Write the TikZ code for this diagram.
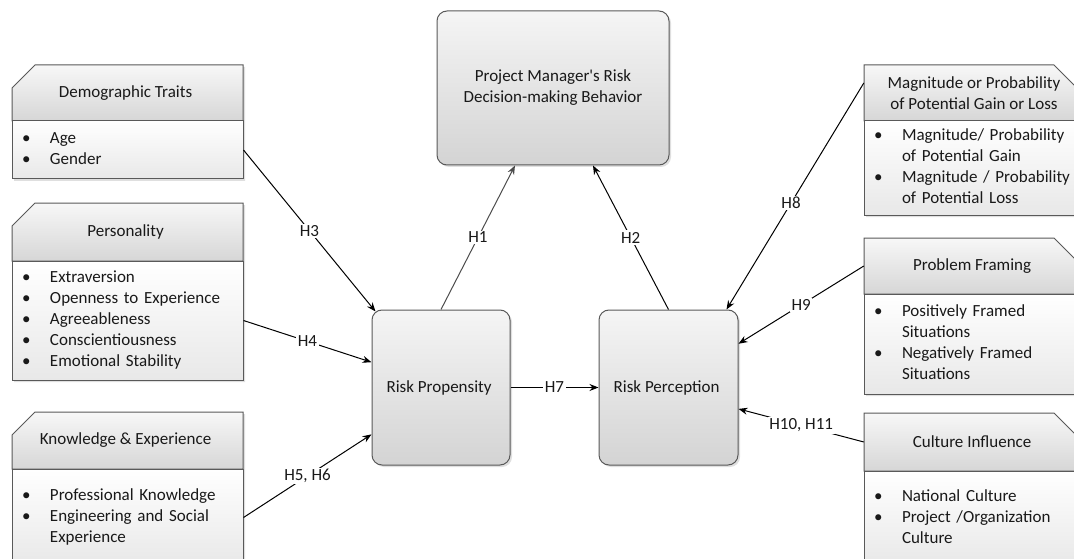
\documentclass[tikz,border=0pt]{standalone}
\usepackage{fontspec}
\setmainfont{Carlito}
\usetikzlibrary{arrows.meta,shadows}

\begin{document}
\begin{tikzpicture}[x = 1pt, y = -1pt, font = \fontsize{17}{21}\selectfont,
    every node/.style = { text = black!90 },
    proc/.style = { draw = black!65, line width = 1pt, rounded corners = 10pt, align = center,
      top color = black!4, bottom color = black!17, inner sep = 0pt,
      drop shadow={shadow xshift=2pt,shadow yshift=-2pt,opacity=.25} },
    outline/.style = { fill = white, drop shadow={shadow xshift=2pt,shadow yshift=-2pt,opacity=.25} },
    hdfill/.style = { draw = black!65, line width = 1pt, top color = black!3, bottom color = black!16 },
    hd/.style = { inner sep = 0pt, align = center },
    bd/.style = { draw = black!65, line width = 1pt, top color = white, bottom color = black!9,
      align = left, inner xsep = 10pt, inner ysep = 0pt },
    conn/.style = { draw = black, line width = 1pt, -{Stealth[length=9pt,width=7pt]} },
    lbl/.style = { fill = white, inner sep = 1.5pt }
  ]
  \useasboundingbox (0,0) rectangle (1074,559);

  % middle
  \node [proc, minimum width = 232pt, minimum height = 154pt] (pm) at (553,88) { Project Manager\textquotesingle s Risk \\ Decision-making Behavior };
  \node [proc, minimum width = 138pt, minimum height = 155pt] (rp) at (441,387.5) { Risk Propensity };
  \node [proc, minimum width = 139pt, minimum height = 155pt] (rperc) at (668.5,387.5) { Risk Perception };

  % left side
  \path [outline] (12,88) -- (35,65) -- (243,65) -- (243,179) -- (12,179) -- cycle;
  \path [hdfill] (12,88) -- (35,65) -- (243,65) -- (243,121) -- (12,121) -- cycle;
  \node [hd, minimum width = 231pt, minimum height = 56pt] (demohead) at (127.5,93) { Demographic Traits };
  \node [bd, text width = 211pt, minimum height = 58pt] (demo) at (127.5,150) {
    \begin{tabular}{@{}p{28pt}@{}l@{}} \textbullet & Age \\ \textbullet & Gender \end{tabular} };

  \path [outline] (12,226) -- (35,203) -- (243,203) -- (243,380) -- (12,380) -- cycle;
  \path [hdfill] (12,226) -- (35,203) -- (243,203) -- (243,261) -- (12,261) -- cycle;
  \node [hd, minimum width = 231pt, minimum height = 58pt] (pershead) at (127.5,232) { Personality };
  \node [bd, text width = 211pt, minimum height = 119pt] (pers) at (127.5,320.5) {
    \begin{tabular}{@{}p{28pt}@{}l@{}} \textbullet & Extraversion \\ \textbullet & Openness to Experience \\
      \textbullet & Agreeableness \\ \textbullet & Conscientiousness \\ \textbullet & Emotional Stability \end{tabular} };

  \path [outline] (12,435) -- (35,412) -- (243,412) -- (243,566) -- (12,566) -- cycle;
  \path [hdfill] (12,435) -- (35,412) -- (243,412) -- (243,469) -- (12,469) -- cycle;
  \node [hd, minimum width = 231pt, minimum height = 57pt] (knowhead) at (127.5,440.5) { Knowledge \& Experience };
  \node [bd, text width = 211pt, minimum height = 97pt] (know) at (127.5,517.5) {
    \begin{tabular}{@{}p{28pt}@{}l@{}} \textbullet & Professional Knowledge \\ \textbullet & Engineering and Social \\
      & Experience \end{tabular} };

  % right side
  \path [outline] (864,65) -- (1054,65) -- (1084,95) -- (1084,215) -- (864,215) -- cycle;
  \path [hdfill] (864,65) -- (1054,65) -- (1084,95) -- (1084,121) -- (864,121) -- cycle;
  \node [hd, minimum width = 220pt, minimum height = 56pt] (maghead) at (974,93) { Magnitude or Probability \\ of Potential Gain or Loss };
  \node [bd, text width = 200pt, minimum height = 94pt] (mag) at (974,168) {
    \begin{tabular}{@{}p{28pt}@{}l@{}} \textbullet & Magnitude/ Probability \\ & of Potential Gain \\
      \textbullet & Magnitude / Probability \\ & of Potential Loss \end{tabular} };

  \path [outline] (864,238) -- (1054,238) -- (1084,268) -- (1084,394) -- (864,394) -- cycle;
  \path [hdfill] (864,238) -- (1054,238) -- (1084,268) -- (1084,294) -- (864,294) -- cycle;
  \node [hd, minimum width = 220pt, minimum height = 56pt] (probhead) at (974,266) { Problem Framing };
  \node [bd, text width = 200pt, minimum height = 100pt] (prob) at (974,344) {
    \begin{tabular}{@{}p{28pt}@{}l@{}} \textbullet & Positively Framed \\ & Situations \\
      \textbullet & Negatively Framed \\ & Situations \end{tabular} };

  \path [outline] (864,413) -- (1054,413) -- (1084,443) -- (1084,566) -- (864,566) -- cycle;
  \path [hdfill] (864,413) -- (1054,413) -- (1084,443) -- (1084,471) -- (864,471) -- cycle;
  \node [hd, minimum width = 220pt, minimum height = 58pt] (culthead) at (974,442) { Culture Influence };
  \node [bd, text width = 200pt, minimum height = 95pt] (cult) at (974,518.5) {
    \begin{tabular}{@{}p{28pt}@{}l@{}} \textbullet & National Culture \\ \textbullet & Project /Organization \\
      & Culture \end{tabular} };

  % hypotheses
  \draw [conn] (demo.east) -- node [lbl] { H3 } ([shift={(4pt,-2pt)}]rp.north west);
  \draw [conn] (pers.east) -- node [lbl] { H4 } (rp.160);
  \draw [conn] (know.east) -- node [lbl] { H5, H6 } (rp.214);
  \draw [conn, black!70] (rp.north) -- node [lbl] { H1 } ([xshift=-38pt]pm.south);
  \draw [conn] (rperc.north) -- node [lbl] { H2 } ([xshift=40pt]pm.south);
  \draw [conn] (rp.east) -- node [lbl] { H7 } (rperc.west);
  \draw [conn] ([yshift=10pt]maghead.west) -- node [lbl, pos = .53] { H8 } ([xshift=-12pt]rperc.north east);
  \draw [conn] (probhead.west) -- node [lbl] { H9 } (rperc.32);
  \draw [conn] (culthead.west) -- node [lbl] { H10, H11 } (rperc.343);
\end{tikzpicture}
\end{document}
